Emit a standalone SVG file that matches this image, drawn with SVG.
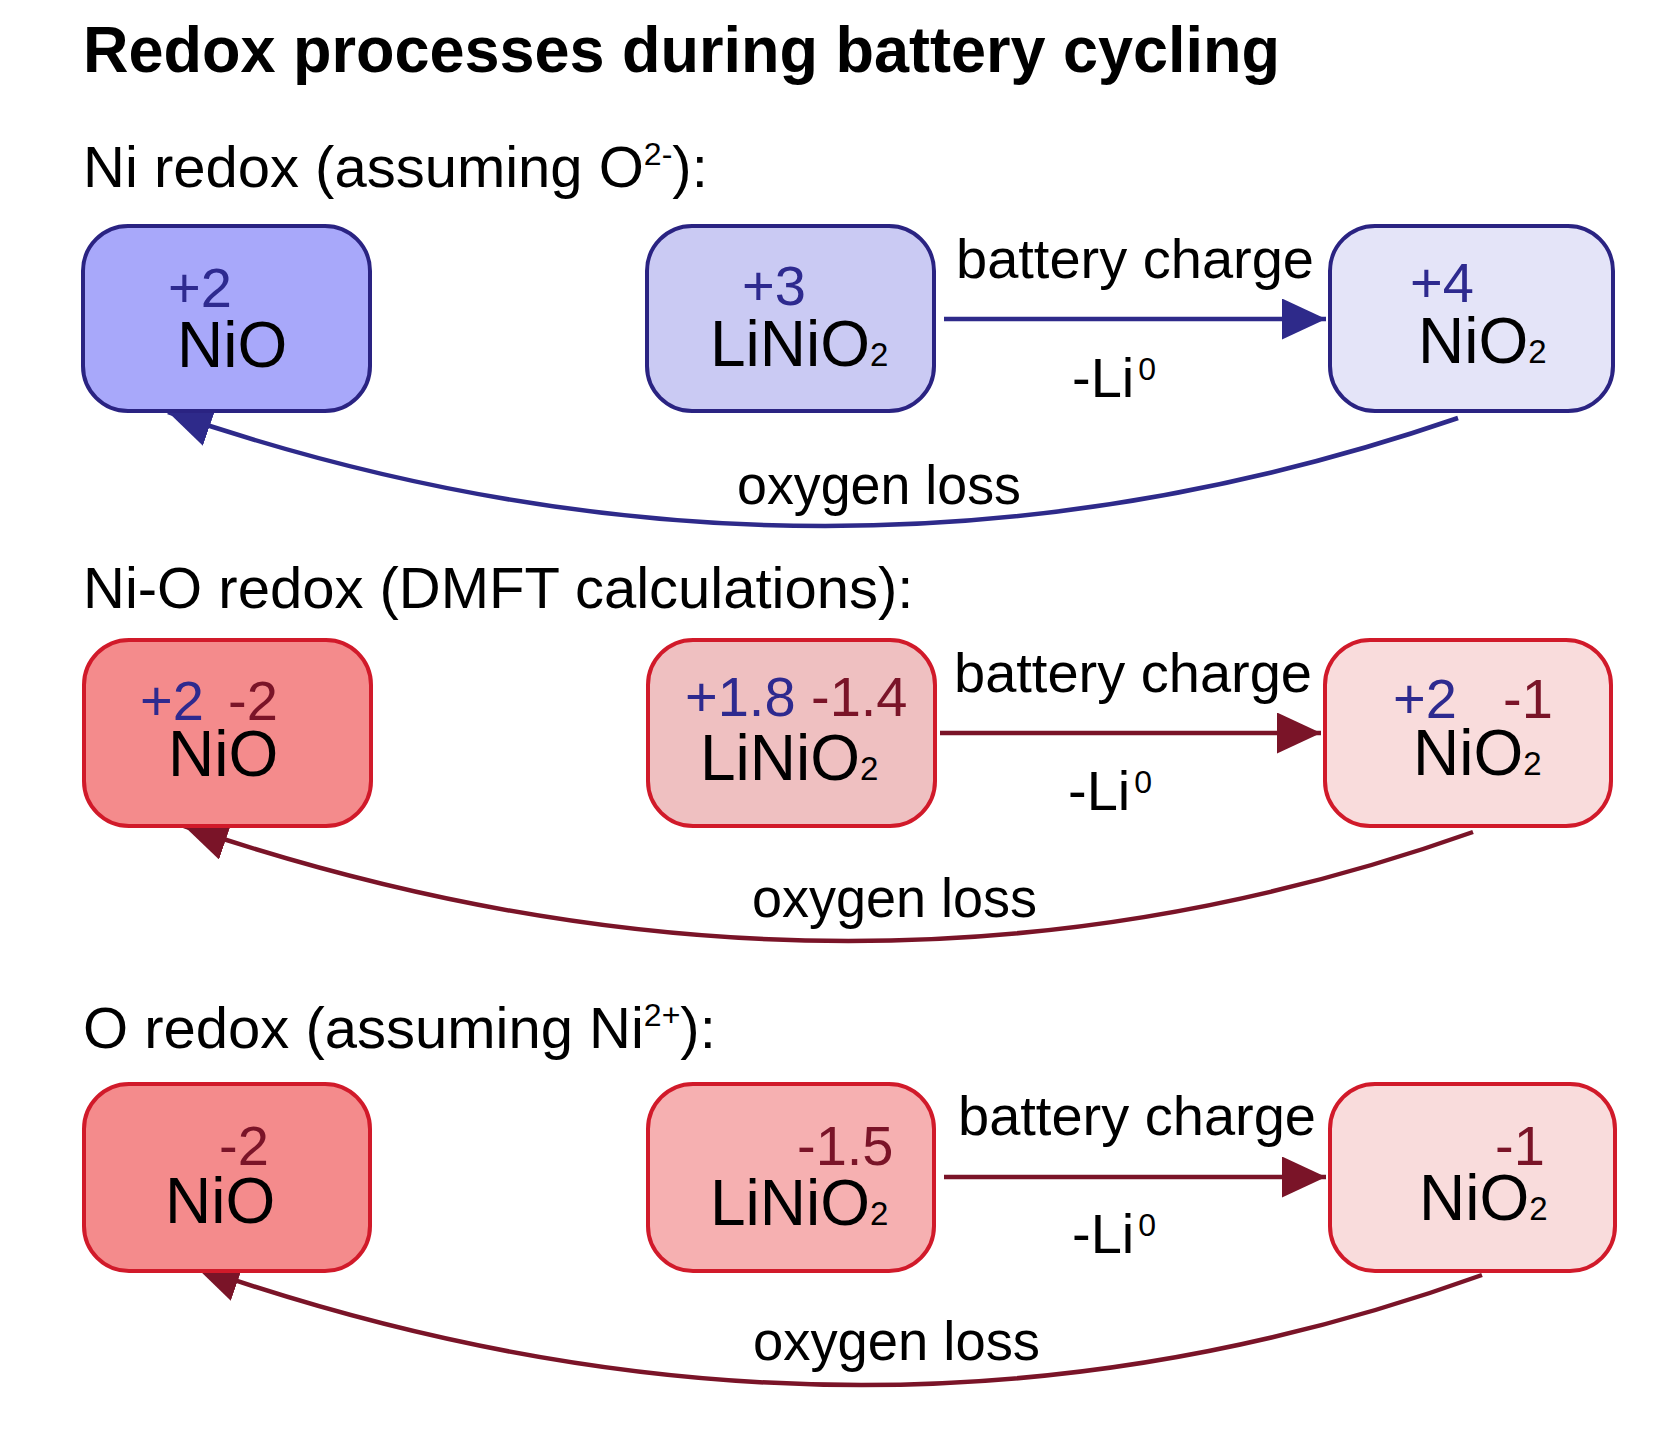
<svg xmlns="http://www.w3.org/2000/svg" width="1672" height="1436" viewBox="0 0 1672 1436">
<defs>
<style>
text{font-family:"Liberation Sans",Arial,sans-serif;fill:#000}
.title{font-size:64px;font-weight:bold}
.head{font-size:58px}
.lbl{font-size:64px}
.num{font-size:56px}
.edge{font-size:56px}
.sub{font-size:33px}
.blue{fill:#2e2a8f}
.red{fill:#7a1428}
.bbox{stroke:#2a2382;stroke-width:4}
.rbox{stroke:#d11a2a;stroke-width:4}
.bline{fill:none;stroke:#2e2a8a;stroke-width:4.5}
.rline{fill:none;stroke:#7a1428;stroke-width:4.5}
</style>
<marker id="ahb" viewBox="0 0 44 41" refX="44" refY="20.5" markerWidth="44" markerHeight="41" markerUnits="userSpaceOnUse" orient="auto"><path d="M0,0 L44,20.5 L0,41 Z" fill="#2e2a8a"/></marker>
<marker id="ahr" viewBox="0 0 44 41" refX="44" refY="20.5" markerWidth="44" markerHeight="41" markerUnits="userSpaceOnUse" orient="auto"><path d="M0,0 L44,20.5 L0,41 Z" fill="#7a1428"/></marker>
</defs>
<rect width="1672" height="1436" fill="#fff"/>
<text class="title" x="83" y="72" textLength="1197" lengthAdjust="spacingAndGlyphs">Redox processes during battery cycling</text>
<text class="head" x="83" y="187">Ni redox (assuming O<tspan font-size="32" dy="-22">2-</tspan><tspan dy="22">):</tspan></text>
<text class="head" x="83" y="608">Ni-O redox (DMFT calculations):</text>
<text class="head" x="83" y="1048">O redox (assuming Ni<tspan font-size="32" dy="-22">2+</tspan><tspan dy="22">):</tspan></text>

<g id="connectors">
<path class="bline" d="M944,319 L1326,319" marker-end="url(#ahb)"/>
<path class="bline" d="M1458,418 Q820,637 168,412" marker-end="url(#ahb)"/>
<path class="rline" d="M940,733 L1321,733" marker-end="url(#ahr)"/>
<path class="rline" d="M1473,832 Q851,1053 184,826" marker-end="url(#ahr)"/>
<path class="rline" d="M944,1177 L1326,1177" marker-end="url(#ahr)"/>
<path class="rline" d="M1482,1275 Q861,1499 196,1267" marker-end="url(#ahr)"/>
<text class="edge" x="956" y="278">battery charge</text>
<text class="edge" x="1072" y="397">-Li<tspan font-size="32" dx="4" dy="-17">0</tspan></text>
<text class="edge" x="737" y="504" textLength="284" lengthAdjust="spacingAndGlyphs">oxygen loss</text>
<text class="edge" x="954" y="692">battery charge</text>
<text class="edge" x="1068" y="810">-Li<tspan font-size="32" dx="4" dy="-17">0</tspan></text>
<text class="edge" x="752" y="917" textLength="285" lengthAdjust="spacingAndGlyphs">oxygen loss</text>
<text class="edge" x="958" y="1135">battery charge</text>
<text class="edge" x="1072" y="1253">-Li<tspan font-size="32" dx="4" dy="-17">0</tspan></text>
<text class="edge" x="753" y="1360" textLength="287" lengthAdjust="spacingAndGlyphs">oxygen loss</text>
</g>

<g id="r1-nio">
<rect class="bbox" x="83" y="226" width="287" height="185" rx="45" fill="#a8a8fa"/>
<text class="lbl"><tspan class="num blue" x="168" y="307">+2</tspan><tspan x="177" y="367">NiO</tspan></text>
</g>
<g id="r1-linio2">
<rect class="bbox" x="647" y="226" width="287" height="185" rx="45" fill="#cacaf3"/>
<text class="lbl"><tspan class="num blue" x="742" y="305">+3</tspan><tspan x="710" y="366">LiNiO</tspan><tspan class="sub">2</tspan></text>
</g>
<g id="r1-nio2">
<rect class="bbox" x="1330" y="226" width="283" height="185" rx="45" fill="#e4e4f8"/>
<text class="lbl"><tspan class="num blue" x="1410" y="302">+4</tspan><tspan x="1418" y="363">NiO</tspan><tspan class="sub">2</tspan></text>
</g>

<g id="r2-nio">
<rect class="rbox" x="84" y="640" width="287" height="186" rx="45" fill="#f48b8c"/>
<text class="lbl"><tspan class="num blue" x="140" y="720">+2</tspan><tspan class="num red" x="228" y="720">-2</tspan><tspan x="168" y="776">NiO</tspan></text>
</g>
<g id="r2-linio2">
<rect class="rbox" x="648" y="640" width="287" height="186" rx="45" fill="#efc0c1"/>
<text class="lbl"><tspan class="num blue" x="685" y="716">+1.8</tspan><tspan class="num red" x="811" y="716">-1.4</tspan><tspan x="700" y="780">LiNiO</tspan><tspan class="sub">2</tspan></text>
</g>
<g id="r2-nio2">
<rect class="rbox" x="1325" y="640" width="286" height="186" rx="45" fill="#f9dcdc"/>
<text class="lbl"><tspan class="num blue" x="1393" y="718">+2</tspan><tspan class="num red" x="1503" y="718">-1</tspan><tspan x="1413" y="775">NiO</tspan><tspan class="sub">2</tspan></text>
</g>

<g id="r3-nio">
<rect class="rbox" x="84" y="1084" width="286" height="187" rx="45" fill="#f48b8c"/>
<text class="lbl"><tspan class="num red" x="219" y="1165">-2</tspan><tspan x="165" y="1223">NiO</tspan></text>
</g>
<g id="r3-linio2">
<rect class="rbox" x="648" y="1084" width="286" height="187" rx="45" fill="#f6b0b1"/>
<text class="lbl"><tspan class="num red" x="797" y="1165">-1.5</tspan><tspan x="710" y="1225">LiNiO</tspan><tspan class="sub">2</tspan></text>
</g>
<g id="r3-nio2">
<rect class="rbox" x="1330" y="1084" width="285" height="187" rx="45" fill="#f9dcdc"/>
<text class="lbl"><tspan class="num red" x="1495" y="1165">-1</tspan><tspan x="1419" y="1220">NiO</tspan><tspan class="sub">2</tspan></text>
</g>
</svg>
